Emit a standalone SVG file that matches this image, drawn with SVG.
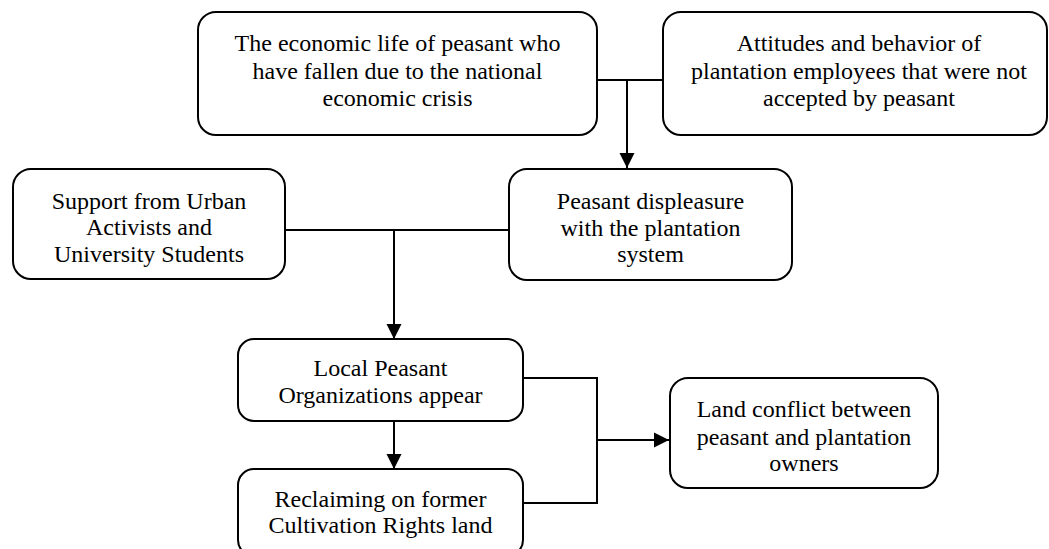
<svg xmlns="http://www.w3.org/2000/svg" width="1049" height="549" viewBox="0 0 1049 549">
  <style>
    .box { fill: #ffffff; stroke: #000000; stroke-width: 2; }
    .lbl { font-family: 'Liberation Serif', 'Times New Roman', Times, serif; font-size: 24px; fill: #000000; text-anchor: middle; }
    .conn { fill: none; stroke: #000000; stroke-width: 2; }
  </style>
  <defs>
    <marker id="arrow" markerUnits="userSpaceOnUse" markerWidth="16" markerHeight="16" refX="15" refY="8" orient="auto">
      <path d="M0,0.5 L15,8 L0,15.5 z" fill="#000000"/>
    </marker>
  </defs>
  <rect width="1049" height="549" fill="#ffffff"/>

  <g id="connectors">
    <line class="conn" x1="597" y1="80" x2="663" y2="80"/>
    <line class="conn" x1="627" y1="80" x2="627" y2="168" marker-end="url(#arrow)"/>
    <line class="conn" x1="285" y1="230" x2="509" y2="230"/>
    <line class="conn" x1="394" y1="230" x2="394" y2="339" marker-end="url(#arrow)"/>
    <line class="conn" x1="394" y1="421" x2="394" y2="469" marker-end="url(#arrow)"/>
    <polyline class="conn" points="523,378 597,378 597,503 523,503"/>
    <line class="conn" x1="597" y1="440" x2="669" y2="440" marker-end="url(#arrow)"/>
  </g>

  <g font-family="Liberation Serif, Times New Roman, serif">
  <g id="node-economic-life">
    <rect class="box" x="198" y="12" width="399" height="123" rx="18" ry="18"/>
    <text class="lbl" x="397.5" y="51">The economic life of peasant who</text>
    <text class="lbl" x="397.5" y="79">have fallen due to the national</text>
    <text class="lbl" x="397.5" y="106">economic crisis</text>
  </g>

  <g id="node-attitudes">
    <rect class="box" x="663" y="12" width="384" height="123" rx="18" ry="18"/>
    <text class="lbl" x="859" y="51">Attitudes and behavior of</text>
    <text class="lbl" x="859" y="79">plantation employees that were not</text>
    <text class="lbl" x="859" y="106">accepted by peasant</text>
  </g>

  <g id="node-support">
    <rect class="box" x="13" y="169" width="272" height="110" rx="18" ry="18"/>
    <text class="lbl" x="149" y="209">Support from Urban</text>
    <text class="lbl" x="149" y="235">Activists and</text>
    <text class="lbl" x="149" y="262">University Students</text>
  </g>

  <g id="node-displeasure">
    <rect class="box" x="509" y="169" width="283" height="111" rx="18" ry="18"/>
    <text class="lbl" x="650.5" y="209">Peasant displeasure</text>
    <text class="lbl" x="650.5" y="236">with the plantation</text>
    <text class="lbl" x="650.5" y="262">system</text>
  </g>

  <g id="node-local-org">
    <rect class="box" x="238" y="339" width="285" height="82" rx="16" ry="16"/>
    <text class="lbl" x="380.5" y="376">Local Peasant</text>
    <text class="lbl" x="380.5" y="403">Organizations appear</text>
  </g>

  <g id="node-reclaiming">
    <rect class="box" x="238" y="469" width="285" height="87" rx="16" ry="16"/>
    <text class="lbl" x="380.5" y="507">Reclaiming on former</text>
    <text class="lbl" x="380.5" y="533">Cultivation Rights land</text>
  </g>

  <g id="node-land-conflict">
    <rect class="box" x="670" y="378" width="268" height="110" rx="18" ry="18"/>
    <text class="lbl" x="804" y="417">Land conflict between</text>
    <text class="lbl" x="804" y="445">peasant and plantation</text>
    <text class="lbl" x="804" y="471">owners</text>
  </g>
  </g>
</svg>
